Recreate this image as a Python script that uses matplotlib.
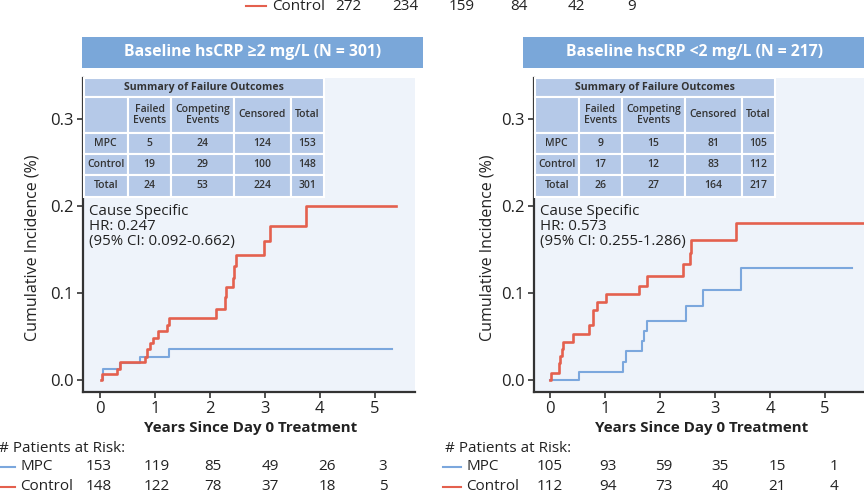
import matplotlib.pyplot as plt
from matplotlib.patches import Rectangle

plt.rcParams['font.family'] = ['Open Sans', 'DejaVu Sans']

W, H = 864, 495

RED = "#e4604e"
BLUE = "#7ba7dd"
BOX = "#7aa7d9"
CELL = "#b5c9e8"
BG = "#eef3fa"
INK = "#222222"

# ==========================
# DATA
# ==========================

titles = ["Baseline hsCRP \u22652 mg/L (N = 301)", "Baseline hsCRP <2 mg/L (N = 217)"]

# cumulative incidence steps, >=2 mg/L
hi_ctrl_t = [0.01, 0.03, 0.30, 0.36, 0.82, 0.86, 0.91, 0.96, 1.06, 1.21, 1.26,
             2.11, 2.27, 2.29, 2.42, 2.44, 2.47, 2.98, 3.09, 3.74, 5.38]
hi_ctrl_y = [0.0, 0.0066, 0.013, 0.0207, 0.0257, 0.035, 0.042, 0.048, 0.0556, 0.063, 0.0716,
             0.081, 0.095, 0.1065, 0.117, 0.131, 0.1437, 0.160, 0.177, 0.2004, 0.2004]
hi_mpc_t = [0.03, 0.05, 0.37, 0.73, 1.26, 5.32]
hi_mpc_y = [0.0, 0.0126, 0.019, 0.026, 0.0352, 0.0352]

# cumulative incidence steps, <2 mg/L
lo_ctrl_t = [0.0, 0.01, 0.17, 0.19, 0.21, 0.23, 0.42, 0.71, 0.78, 0.85, 1.02,
             1.61, 1.76, 2.42, 2.55, 2.57, 3.39, 5.9]
lo_ctrl_y = [0.0, 0.0084, 0.019, 0.027, 0.036, 0.044, 0.053, 0.0625, 0.0805, 0.090, 0.0989,
             0.108, 0.1188, 0.133, 0.146, 0.161, 0.180, 0.180]
lo_mpc_t = [0.0, 0.53, 1.32, 1.38, 1.67, 1.71, 1.77, 2.47, 2.79, 3.47, 5.50]
lo_mpc_y = [0.0, 0.0092, 0.021, 0.0326, 0.045, 0.0567, 0.068, 0.0854, 0.1034, 0.128, 0.128]

table_cols = ["", "Failed\nEvents", "Competing\nEvents", "Censored", "Total"]
row_names = ["MPC", "Control", "Total"]
hi_table = [[5, 24, 124, 153], [19, 29, 100, 148], [24, 53, 224, 301]]
lo_table = [[9, 15, 81, 105], [17, 12, 83, 112], [26, 27, 164, 217]]

hr_text = ["Cause Specific\nHR: 0.247\n(95% CI: 0.092-0.662)",
           "Cause Specific\nHR: 0.573\n(95% CI: 0.255-1.286)"]

hi_risk_mpc = [153, 119, 85, 49, 26, 3]
hi_risk_ctrl = [148, 122, 78, 37, 18, 5]
lo_risk_mpc = [105, 93, 59, 35, 15, 1]
lo_risk_ctrl = [112, 94, 73, 40, 21, 4]

# stray row from panel above (cut off at top)
top_ctrl = [272, 234, 159, 84, 42, 9]

years = [0, 1, 2, 3, 4, 5]


def px(x, y):
    return x / W, 1 - y / H


fig = plt.figure(figsize=(W / 100, H / 100), dpi=100)

# ==========================
# PANELS
# ==========================

panels = [
    dict(x0=83, x1=415, xl=-0.31, xr=5.73, box=(82, 423), ylab=33, risk_lx=-1,
         risk_x=[99, 157, 213, 270, 327, 383], title=titles[0], tab=hi_table, hr=hr_text[0],
         ctrl=(hi_ctrl_t, hi_ctrl_y), mpc=(hi_mpc_t, hi_mpc_y),
         rm=hi_risk_mpc, rc=hi_risk_ctrl),
    dict(x0=534, x1=864, xl=-0.29, xr=5.71, box=(523, 864), ylab=487, risk_lx=445,
         risk_x=[550, 608, 664, 720, 777, 834], title=titles[1], tab=lo_table, hr=hr_text[1],
         ctrl=(lo_ctrl_t, lo_ctrl_y), mpc=(lo_mpc_t, lo_mpc_y),
         rm=lo_risk_mpc, rc=lo_risk_ctrl),
]

y_top, y_bot = 78, 392
FS = 11

for p in panels:
    l, b = px(p["x0"], y_bot)
    ax = fig.add_axes([l, b, (p["x1"] - p["x0"]) / W, (y_bot - y_top) / H])
    ax.set_facecolor(BG)
    ax.step(p["mpc"][0], p["mpc"][1], where="post", color=BLUE, lw=1.5, zorder=3)
    ax.step(p["ctrl"][0], p["ctrl"][1], where="post", color=RED, lw=1.9, zorder=4)
    ax.set_xlim(p["xl"], p["xr"])
    ax.set_ylim(-0.014, 0.347)
    ax.set_xticks(years)
    ax.set_yticks([0.0, 0.1, 0.2, 0.3])
    ax.set_yticklabels(["0.0", "0.1", "0.2", "0.3"])
    for s in ["top", "right"]:
        ax.spines[s].set_visible(False)
    for s in ["left", "bottom"]:
        ax.spines[s].set_linewidth(1.6)
        ax.spines[s].set_color("#333333")
    ax.tick_params(labelsize=12, length=4, width=1.2, color="#333333",
                   labelcolor=INK, pad=2.5)
    ax.text(0.018, 0.600, p["hr"], transform=ax.transAxes, fontsize=10.8,
            color=INK, va="top", ha="left", linespacing=1.0)

    # title box
    bx0, bx1 = p["box"]
    fig.patches.append(Rectangle(px(bx0, 68), (bx1 - bx0) / W, 31 / H,
                                 transform=fig.transFigure, facecolor=BOX,
                                 edgecolor="none"))
    fig.text(*px((bx0 + bx1) / 2 if bx1 < 864 else (bx0 + 864) / 2 + 1, 52.5),
             p["title"], color="white", fontsize=11.3, fontweight="bold",
             ha="center", va="center")

    # y label and x label
    fig.text(*px(p["ylab"], 248), "Cumulative Incidence (%)", rotation=90,
             fontsize=11.5, color=INK, ha="center", va="center")
    fig.text(*px((p["risk_x"][0] + p["risk_x"][-1]) / 2 + 10, 428),
             "Years Since Day 0 Treatment", fontsize=10.9, fontweight="bold",
             color=INK, ha="center", va="center")

    # summary table
    col_w = [44.5, 43, 63, 57, 32.5]
    row_e = [78, 97, 132.5, 154, 175, 197]
    cx = [p["x0"] + 0.5]
    for w in col_w:
        cx.append(cx[-1] + w)
    ax.add_patch(Rectangle(px(cx[0], row_e[1]), (cx[-1] - cx[0]) / W,
                           (row_e[1] - row_e[0]) / H, transform=fig.transFigure,
                           facecolor=CELL, edgecolor="white", lw=1.5,
                           clip_on=False, zorder=5))
    fig.text(*px((cx[0] + cx[-1]) / 2, (row_e[0] + row_e[1]) / 2),
             "Summary of Failure Outcomes", fontsize=7.6, fontweight="bold",
             color="#333333", ha="center", va="center", zorder=6)
    for r in range(4):
        for c in range(5):
            ya, yb = row_e[r + 1], row_e[r + 2]
            ax.add_patch(Rectangle(px(cx[c], yb), col_w[c] / W, (yb - ya) / H,
                                   transform=fig.transFigure, facecolor=CELL,
                                   edgecolor="white", lw=1.5, clip_on=False,
                                   zorder=5))
            if r == 0:
                txt = table_cols[c]
            elif c == 0:
                txt = row_names[r - 1]
            else:
                txt = str(p["tab"][r - 1][c - 1])
            fig.text(*px((cx[c] + cx[c + 1]) / 2, (ya + yb) / 2), txt,
                     fontsize=7.5, fontweight="semibold", color="#333333",
                     ha="center", va="center", linespacing=1.0, zorder=6)

    # patients at risk
    lx = p["risk_lx"]
    fig.text(*px(lx, 448), "# Patients at Risk:", fontsize=FS, color=INK,
             ha="left", va="center")
    for yy, col, name, vals in [(467, BLUE, "MPC", p["rm"]),
                                (487, RED, "Control", p["rc"])]:
        fig.add_artist(plt.Line2D([(lx - 2) / W, (lx + 16) / W],
                                  [1 - yy / H, 1 - yy / H], color=col, lw=1.5))
        fig.text(*px(lx + 21, yy), name, fontsize=FS, color=INK,
                 ha="left", va="center")
        for xx, v in zip(p["risk_x"], vals):
            fig.text(*px(xx, yy), str(v), fontsize=FS, color=INK,
                     ha="center", va="center")

# stray row at the top edge
fig.add_artist(plt.Line2D([246 / W, 266 / W], [1 - 6 / H, 1 - 6 / H],
                          color=RED, lw=1.5))
fig.text(*px(272, 6), "Control", fontsize=FS, color=INK, ha="left", va="center")
for xx, v in zip([348, 405, 462, 519, 576, 632], top_ctrl):
    fig.text(*px(xx, 6), str(v), fontsize=FS, color=INK, ha="center", va="center")

fig.savefig("out.png", dpi=100)
